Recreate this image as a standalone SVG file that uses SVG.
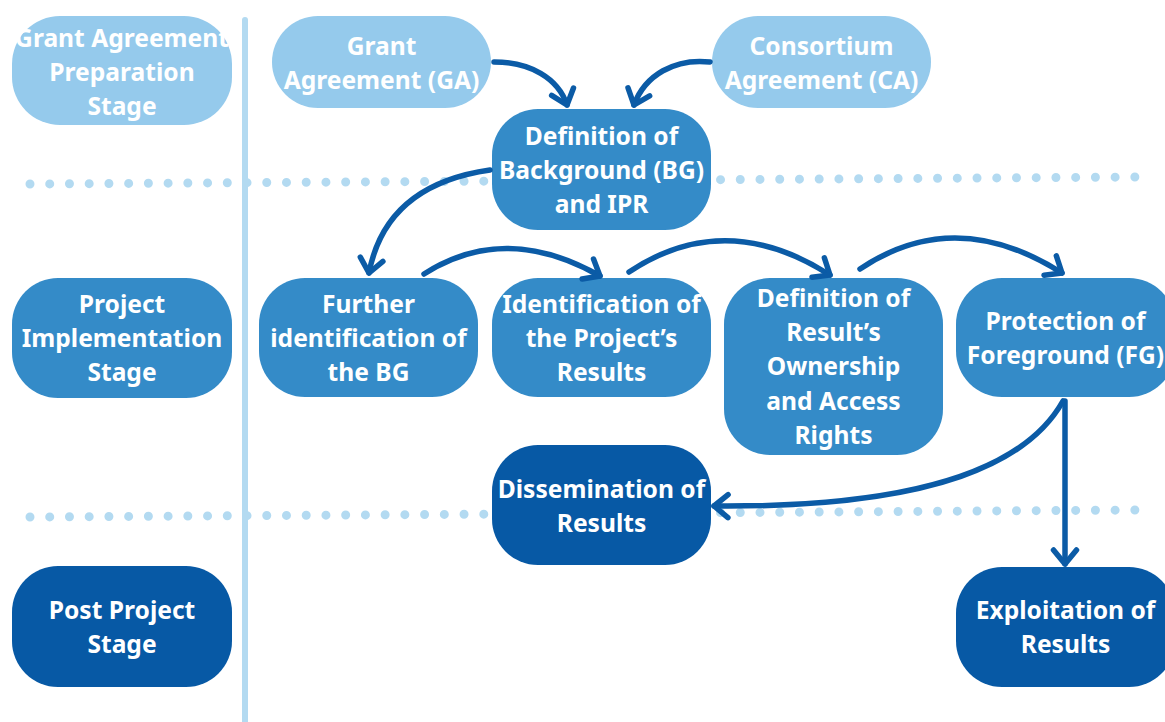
<svg xmlns="http://www.w3.org/2000/svg" width="1165" height="722" viewBox="0 0 1165 722">
  <style>
    .light { fill: #95CAEC; }
    .mid { fill: #348BC8; }
    .dark { fill: #0759A5; }
    .label { font-family: "Noto Sans", "Open Sans", "Liberation Sans", sans-serif; font-weight: 700; font-size: 24.6px; fill: #FFFFFF; text-anchor: middle; }
    .dots { stroke: #B3DAF1; stroke-width: 9; stroke-linecap: round; stroke-dasharray: 0 19.73; fill: none; }
    .divider { stroke: #B3DAF1; stroke-width: 6; stroke-linecap: round; fill: none; }
    .flow { stroke: #0B5BA6; stroke-width: 5.5; stroke-linecap: round; fill: none; marker-end: url(#chevron); }
  </style>
  <defs>
    <marker id="chevron" markerUnits="userSpaceOnUse" orient="auto" refX="0" refY="0" markerWidth="30" markerHeight="30" overflow="visible">
      <path d="M -14 -11.5 L 0 0 L -14 11.5" fill="none" stroke="#0B5BA6" stroke-width="5.5" stroke-linecap="round" stroke-linejoin="round"/>
    </marker>
  </defs>

  <rect width="1165" height="722" fill="#FFFFFF"/>

  <!-- stage separators -->
  <g id="separators">
    <line class="dots" x1="30" y1="184" x2="1135" y2="177"/>
    <line class="dots" x1="30" y1="517" x2="1135" y2="510"/>
    <line class="divider" x1="245" y1="20" x2="245" y2="730"/>
  </g>

  <!-- stage labels -->
  <g id="stage-preparation">
    <rect class="light" x="12" y="16" width="220" height="109" rx="48"/>
    <text class="label" x="122" y="47">Grant Agreement</text>
    <text class="label" x="122" y="81">Preparation</text>
    <text class="label" x="122" y="115">Stage</text>
  </g>
  <g id="stage-implementation">
    <rect class="mid" x="12" y="278" width="220" height="120" rx="46"/>
    <text class="label" x="122" y="313">Project</text>
    <text class="label" x="122" y="347">Implementation</text>
    <text class="label" x="122" y="381">Stage</text>
  </g>
  <g id="stage-post">
    <rect class="dark" x="12" y="566" width="220" height="121" rx="46"/>
    <text class="label" x="122" y="619">Post Project</text>
    <text class="label" x="122" y="653">Stage</text>
  </g>

  <!-- process nodes -->
  <g id="node-ga">
    <rect class="light" x="272" y="16" width="219" height="92" rx="46"/>
    <text class="label" x="381.5" y="55">Grant</text>
    <text class="label" x="381.5" y="89">Agreement (GA)</text>
  </g>
  <g id="node-ca">
    <rect class="light" x="712" y="16" width="219" height="92" rx="46"/>
    <text class="label" x="821.5" y="55">Consortium</text>
    <text class="label" x="821.5" y="89">Agreement (CA)</text>
  </g>
  <g id="node-background">
    <rect class="mid" x="492" y="109" width="219" height="121" rx="46"/>
    <text class="label" x="601.5" y="145">Definition of</text>
    <text class="label" x="601.5" y="179">Background (BG)</text>
    <text class="label" x="601.5" y="213">and IPR</text>
  </g>
  <g id="node-further-bg">
    <rect class="mid" x="259" y="278" width="219" height="119" rx="46"/>
    <text class="label" x="368.5" y="313">Further</text>
    <text class="label" x="368.5" y="347">identification of</text>
    <text class="label" x="368.5" y="381">the BG</text>
  </g>
  <g id="node-results">
    <rect class="mid" x="492" y="278" width="219" height="119" rx="46"/>
    <text class="label" x="601.5" y="313">Identification of</text>
    <text class="label" x="601.5" y="347">the Project’s</text>
    <text class="label" x="601.5" y="381">Results</text>
  </g>
  <g id="node-ownership">
    <rect class="mid" x="724" y="278" width="219" height="177" rx="46"/>
    <text class="label" x="833.5" y="307">Definition of</text>
    <text class="label" x="833.5" y="341">Result’s</text>
    <text class="label" x="833.5" y="375">Ownership</text>
    <text class="label" x="833.5" y="410">and Access</text>
    <text class="label" x="833.5" y="444">Rights</text>
  </g>
  <g id="node-protection">
    <rect class="mid" x="956" y="278" width="219" height="119" rx="46"/>
    <text class="label" x="1065.5" y="330">Protection of</text>
    <text class="label" x="1065.5" y="364">Foreground (FG)</text>
  </g>
  <g id="node-dissemination">
    <rect class="dark" x="492" y="445" width="219" height="120" rx="46"/>
    <text class="label" x="601.5" y="498">Dissemination of</text>
    <text class="label" x="601.5" y="532">Results</text>
  </g>
  <g id="node-exploitation">
    <rect class="dark" x="956" y="567" width="219" height="120" rx="46"/>
    <text class="label" x="1065.5" y="619">Exploitation of</text>
    <text class="label" x="1065.5" y="653">Results</text>
  </g>

  <!-- connectors -->
  <g id="connectors">
    <path class="flow" d="M 494 62 C 530 62 558 78 567 105"/>
    <path class="flow" d="M 710 62 C 675 58 645 75 634 105"/>
    <path class="flow" d="M 490 170 C 420 180 380 215 369 273"/>
    <path class="flow" d="M 424 274 Q 505 222 600 276"/>
    <path class="flow" d="M 629 272 Q 725 208 830 275"/>
    <path class="flow" d="M 860 269 Q 955 205 1062 273"/>
    <path class="flow" d="M 1063 401 C 1030 460 940 508 714 506"/>
    <path class="flow" d="M 1065 401 L 1065 564"/>
  </g>
</svg>
